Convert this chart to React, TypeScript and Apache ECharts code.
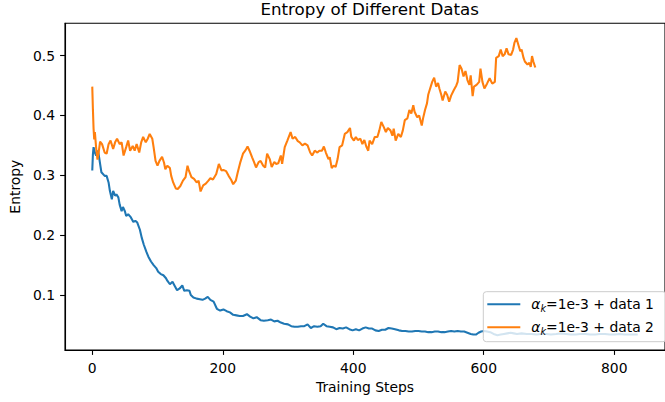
import React, { useEffect, useRef } from "react";
import * as echarts from "echarts";

const chartTitle = "Entropy of Different Datas";
const xAxisTitle = "Training Steps";
const yAxisTitle = "Entropy";
const seriesNames = ["αk=1e-3 + data 1", "αk=1e-3 + data 2"];
const xTickValues = [0, 200, 400, 600, 800];
const yTickValues = [0.1, 0.2, 0.3, 0.4, 0.5];

const data1Steps = [0, 1, 2, 4, 6, 9, 12, 14, 19, 22, 25, 27, 30, 32, 35, 37, 40, 42, 45, 47, 50, 52, 55, 59, 63, 66, 69, 73, 76, 79, 83, 86, 90, 94, 98, 101, 105, 109, 113, 115, 119, 123, 126, 130, 134, 138, 141, 145, 149, 151, 155, 160, 165, 169, 173, 177, 181, 186, 191, 196, 201, 206, 211, 216, 221, 226, 231, 237, 242, 247, 252, 258, 263, 269, 274, 279, 284, 289, 294, 300, 305, 310, 315, 320, 325, 330, 335, 340, 345, 350, 354, 359, 364, 369, 374, 379, 384, 389, 394, 399, 404, 409, 414, 419, 424, 429, 434, 439, 444, 449, 454, 459, 464, 470, 475, 480, 485, 490, 495, 500, 505, 510, 515, 520, 525, 530, 535, 540, 545, 550, 555, 560, 565, 570, 575, 580, 584, 588, 592, 596, 600, 605, 610, 615, 621, 626, 631, 636, 641, 646, 651, 658, 666, 673, 681, 688, 696, 703, 711, 718, 726, 733, 741, 748, 756, 763, 771, 778, 786, 793, 801, 808, 816, 823, 830, 836];
const data1Entropy = [0.308, 0.335, 0.347, 0.338, 0.333, 0.341, 0.319, 0.305, 0.299, 0.299, 0.288, 0.274, 0.26, 0.274, 0.266, 0.268, 0.263, 0.251, 0.24, 0.247, 0.24, 0.232, 0.235, 0.23, 0.222, 0.224, 0.221, 0.209, 0.195, 0.184, 0.172, 0.164, 0.156, 0.15, 0.145, 0.139, 0.135, 0.133, 0.128, 0.124, 0.118, 0.122, 0.116, 0.108, 0.111, 0.116, 0.107, 0.108, 0.107, 0.1, 0.096, 0.094, 0.093, 0.092, 0.094, 0.097, 0.092, 0.089, 0.077, 0.074, 0.076, 0.073, 0.071, 0.067, 0.066, 0.065, 0.065, 0.068, 0.064, 0.061, 0.063, 0.058, 0.057, 0.058, 0.059, 0.056, 0.057, 0.054, 0.052, 0.051, 0.048, 0.047, 0.047, 0.048, 0.048, 0.051, 0.045, 0.048, 0.047, 0.048, 0.052, 0.048, 0.047, 0.046, 0.043, 0.045, 0.044, 0.046, 0.043, 0.041, 0.043, 0.041, 0.044, 0.046, 0.044, 0.044, 0.041, 0.04, 0.042, 0.042, 0.045, 0.044, 0.043, 0.041, 0.04, 0.04, 0.039, 0.039, 0.04, 0.04, 0.039, 0.039, 0.038, 0.038, 0.039, 0.039, 0.038, 0.038, 0.039, 0.04, 0.039, 0.04, 0.039, 0.039, 0.037, 0.035, 0.034, 0.034, 0.037, 0.039, 0.04, 0.039, 0.038, 0.035, 0.033, 0.034, 0.035, 0.036, 0.037, 0.036, 0.035, 0.036, 0.035, 0.035, 0.034, 0.035, 0.035, 0.034, 0.035, 0.036, 0.035, 0.034, 0.034, 0.035, 0.035, 0.034, 0.034, 0.035, 0.035, 0.034, 0.034, 0.035, 0.034, 0.034, 0.034, 0.034];

const data2Steps = [0, 1, 2, 3, 4, 6, 8, 10, 12, 15, 19, 22, 25, 28, 32, 35, 38, 42, 45, 48, 52, 55, 58, 62, 65, 68, 72, 75, 78, 82, 85, 88, 92, 94, 97, 100, 103, 107, 110, 112, 115, 119, 121, 124, 128, 131, 135, 139, 143, 146, 148, 152, 156, 160, 163, 166, 170, 174, 178, 181, 185, 190, 194, 198, 201, 205, 209, 213, 216, 220, 223, 227, 231, 235, 238, 241, 245, 248, 251, 255, 258, 262, 265, 268, 272, 275, 279, 282, 285, 289, 291, 295, 299, 304, 307, 311, 315, 318, 322, 326, 330, 334, 337, 341, 345, 348, 352, 355, 358, 362, 364, 367, 370, 373, 376, 379, 383, 387, 391, 395, 397, 401, 404, 407, 411, 414, 417, 420, 423, 425, 429, 433, 437, 440, 443, 447, 450, 453, 457, 460, 462, 465, 469, 473, 476, 479, 483, 486, 489, 492, 494, 498, 501, 505, 507, 510, 513, 515, 517, 521, 524, 527, 530, 532, 535, 537, 541, 544, 547, 550, 554, 558, 560, 563, 566, 569, 572, 575, 578, 580, 583, 585, 589, 593, 595, 598, 601, 605, 609, 613, 617, 619, 623, 626, 629, 632, 635, 638, 642, 645, 647, 650, 653, 656, 658, 661, 663, 667, 670, 672, 674, 676, 679];
const data2Entropy = [0.448, 0.41, 0.378, 0.36, 0.372, 0.345, 0.326, 0.34, 0.356, 0.352, 0.338, 0.336, 0.352, 0.358, 0.344, 0.355, 0.361, 0.352, 0.355, 0.333, 0.347, 0.358, 0.341, 0.349, 0.341, 0.352, 0.338, 0.355, 0.364, 0.355, 0.361, 0.369, 0.361, 0.347, 0.324, 0.316, 0.324, 0.331, 0.321, 0.31, 0.316, 0.312, 0.299, 0.288, 0.278, 0.277, 0.282, 0.291, 0.297, 0.316, 0.308, 0.297, 0.294, 0.288, 0.291, 0.273, 0.283, 0.286, 0.291, 0.295, 0.293, 0.302, 0.319, 0.308, 0.309, 0.307, 0.299, 0.292, 0.285, 0.291, 0.305, 0.322, 0.336, 0.342, 0.348, 0.341, 0.33, 0.322, 0.313, 0.322, 0.324, 0.316, 0.313, 0.336, 0.327, 0.314, 0.322, 0.319, 0.32, 0.333, 0.319, 0.347, 0.358, 0.372, 0.361, 0.364, 0.357, 0.355, 0.35, 0.353, 0.35, 0.338, 0.333, 0.341, 0.338, 0.341, 0.341, 0.348, 0.338, 0.327, 0.33, 0.312, 0.316, 0.314, 0.327, 0.347, 0.35, 0.369, 0.372, 0.379, 0.364, 0.358, 0.364, 0.359, 0.361, 0.352, 0.359, 0.348, 0.341, 0.358, 0.352, 0.364, 0.364, 0.375, 0.389, 0.38, 0.372, 0.379, 0.375, 0.366, 0.378, 0.358, 0.369, 0.364, 0.375, 0.392, 0.395, 0.409, 0.403, 0.417, 0.406, 0.397, 0.4, 0.383, 0.395, 0.409, 0.42, 0.435, 0.442, 0.456, 0.463, 0.448, 0.454, 0.445, 0.434, 0.425, 0.44, 0.434, 0.423, 0.433, 0.442, 0.45, 0.456, 0.484, 0.478, 0.465, 0.474, 0.459, 0.451, 0.467, 0.432, 0.448, 0.451, 0.456, 0.478, 0.456, 0.445, 0.453, 0.462, 0.453, 0.456, 0.496, 0.499, 0.51, 0.499, 0.502, 0.512, 0.502, 0.501, 0.51, 0.521, 0.529, 0.518, 0.507, 0.51, 0.496, 0.49, 0.485, 0.488, 0.481, 0.499, 0.49, 0.48];

const FONT = "DejaVu Sans";

export default function App() {
  const ref = useRef<HTMLDivElement>(null);
  useEffect(() => {
    if (!ref.current) return;
    const chart = echarts.init(ref.current, null, { renderer: "svg" });
    const pairs = (xs: number[], ys: number[]) => xs.map((x, i) => [x, ys[i]]);
    const colors = ["#1f77b4", "#ff7f0e"];
    const allSteps = data1Steps.concat(data2Steps);
    const maxStep = Math.max(...allSteps);
    const xMargin = maxStep * 0.05;
    const allVals = data1Entropy.concat(data2Entropy);
    const yLo = Math.min(...allVals);
    const yHi = Math.max(...allVals);
    const yMargin = (yHi - yLo) * 0.05;
    chart.setOption({
      animation: false,
      title: {
        text: chartTitle,
        left: 369.7,
        top: 0,
        textAlign: "center",
        padding: 0,
        textStyle: { fontFamily: FONT, fontSize: 16.7, fontWeight: "normal", color: "#000" },
      },
      grid: {
        left: 64.3,
        right: -10,
        top: 23.3,
        bottom: 52,
        show: true,
        borderColor: "#000",
        borderWidth: 1.1,
        backgroundColor: "transparent",
        containLabel: false,
      },
      legend: {
        orient: "vertical",
        left: 483.3,
        top: 291.7,
        padding: [5.5, 12, 5.5, 4],
        itemGap: 7,
        itemWidth: 33,
        itemHeight: 2.1,
        icon: "rect",
        backgroundColor: "rgba(255,255,255,0.8)",
        borderColor: "#cccccc",
        borderWidth: 1,
        borderRadius: 3,
        data: seriesNames,
        formatter: (name: string) =>
          "{g|" + name.slice(0, 1) + "}{s|" + name.slice(1, 2) + "}{t|" + name.slice(2) + "}",
        textStyle: {
          fontFamily: FONT,
          fontSize: 13.9,
          color: "#000",
          padding: [0, 0, 0, 6],
          rich: {
            g: { fontFamily: FONT, fontSize: 13.9, fontStyle: "italic", color: "#000", lineHeight: 18 },
            s: { fontFamily: FONT, fontSize: 9.7, fontStyle: "italic", color: "#000", verticalAlign: "bottom", lineHeight: 12 },
            t: { fontFamily: FONT, fontSize: 13.9, color: "#000", lineHeight: 18 },
          },
        },
      },
      xAxis: {
        type: "value",
        min: -xMargin,
        max: maxStep + xMargin,
        name: xAxisTitle,
        nameLocation: "middle",
        nameGap: 30,
        nameTextStyle: { fontFamily: FONT, fontSize: 13.9, color: "#000" },
        axisLine: { show: true, onZero: false, lineStyle: { color: "#000", width: 1.1 } },
        axisTick: { show: true, length: 4.9, customValues: xTickValues, lineStyle: { color: "#000", width: 1.1 } },
        axisLabel: {
          customValues: xTickValues,
          margin: 11,
          fontFamily: FONT,
          fontSize: 13.9,
          color: "#000",
          formatter: (v: number) => String(v),
        },
        splitLine: { show: false },
      },
      yAxis: {
        type: "value",
        min: yLo - yMargin,
        max: yHi + yMargin,
        name: yAxisTitle,
        nameLocation: "middle",
        nameGap: 38,
        nameTextStyle: { fontFamily: FONT, fontSize: 13.9, color: "#000" },
        axisLine: { show: true, onZero: false, lineStyle: { color: "#000", width: 1.1 } },
        axisTick: { show: true, length: 4.9, customValues: yTickValues, lineStyle: { color: "#000", width: 1.1 } },
        axisLabel: {
          customValues: yTickValues,
          margin: 10,
          fontFamily: FONT,
          fontSize: 13.9,
          color: "#000",
          formatter: (v: number) => v.toFixed(1),
        },
        splitLine: { show: false },
      },
      series: [
        {
          name: seriesNames[0],
          type: "line",
          data: pairs(data1Steps, data1Entropy),
          symbol: "none",
          showSymbol: false,
          lineStyle: { color: colors[0], width: 2.08 },
          itemStyle: { color: colors[0] },
        },
        {
          name: seriesNames[1],
          type: "line",
          data: pairs(data2Steps, data2Entropy),
          symbol: "none",
          showSymbol: false,
          lineStyle: { color: colors[1], width: 2.08 },
          itemStyle: { color: colors[1] },
        },
      ],
    });
    return () => chart.dispose();
  }, []);
  return (
    <div
      ref={ref}
      style={{ position: "fixed", left: 0, top: 0, width: 665, height: 402, background: "#fff" }}
    />
  );
}
